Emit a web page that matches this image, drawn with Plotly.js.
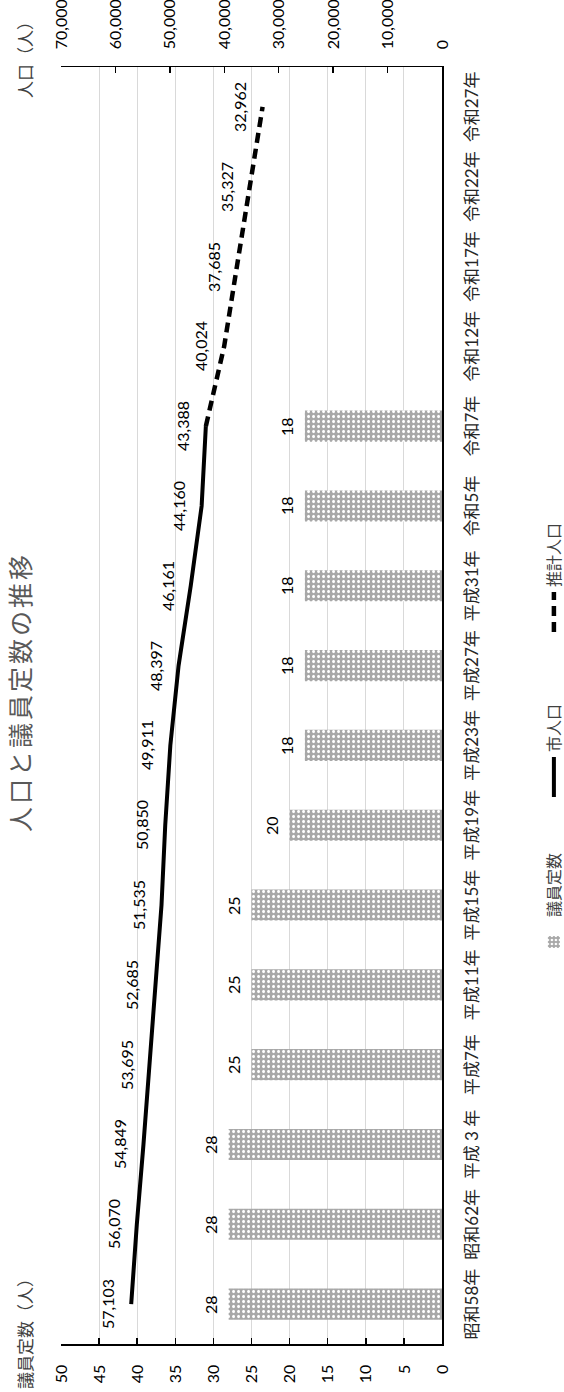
<!DOCTYPE html>
<html>
<head>
<meta charset="utf-8">
<script src="https://cdn.plot.ly/plotly-3.0.1.min.js"></script>
<style>
  html, body { margin: 0; padding: 0; background: #ffffff; }
  body { width: 564px; height: 1392px; overflow: hidden; position: relative; }
  #chart {
    position: absolute; left: 0; top: 0;
    width: 1392px; height: 564px;
    transform-origin: 0 0;
    transform: translate(0px, 1392px) rotate(-90deg);
  }
  #chart .gtitle { letter-spacing: 3px; }
</style>
</head>
<body>
<div id="chart"></div>
<script>
// ---- data ----
const categories = ['昭和58年','昭和62年','平成 3 年','平成7年','平成11年','平成15年','平成19年','平成23年','平成27年','平成31年','令和5年','令和7年','令和12年','令和17年','令和22年','令和27年'];
const seats      = [28, 28, 28, 25, 25, 25, 20, 18, 18, 18, 18, 18, null, null, null, null];
const population = [57103, 56070, 54849, 53695, 52685, 51535, 50850, 49911, 48397, 46161, 44160, 43388, null, null, null, null];
const estimate   = [null, null, null, null, null, null, null, null, null, null, null, 43388, 40024, 37685, 35327, 32962];
const seatTicks  = [0, 5, 10, 15, 20, 25, 30, 35, 40, 45, 50];
const popTicks   = [0, 10000, 20000, 30000, 40000, 50000, 60000, 70000];

const LATIN = "Lato, 'Noto Sans CJK JP', sans-serif";
const CJK = "'Noto Sans CJK JP', sans-serif";

const W = 1392, H = 564;
const M = {l: 48, r: 67, t: 61, b: 122, autoexpand: false};
const PW = W - M.l - M.r, PH = H - M.t - M.b;
const px2x = p => (p - M.l) / PW;
const px2y = p => (H - M.b - p) / PH;

const traces = [
  {
    type: 'bar', name: '議員定数', x: categories, y: seats, yaxis: 'y',
    marker: {color: '#a6a6a6', line: {width: 0},
      pattern: {shape: '.', fillmode: 'replace', bgcolor: '#a8a8a8', fgcolor: '#ffffff', size: 5, solidity: 0.3}},
    hoverinfo: 'skip'
  },
  {
    type: 'scatter', mode: 'lines', name: '市人口', x: categories, y: population, yaxis: 'y2',
    line: {color: '#000000', width: 4}, hoverinfo: 'skip'
  },
  {
    type: 'scatter', mode: 'lines', name: '推計人口', x: categories, y: estimate, yaxis: 'y2',
    line: {color: '#000000', width: 4.5, dash: '10px,6px'}, hoverinfo: 'skip'
  }
];

const labelFont = {family: LATIN, size: 16, color: '#000000'};
const annotations = [];
seats.forEach((v, i) => {
  if (v !== null) annotations.push({x: categories[i], y: v, xref: 'x', yref: 'y', text: String(v),
    showarrow: false, yshift: 18.5, font: labelFont});
});
population.forEach((v, i) => {
  if (v !== null) annotations.push({x: categories[i], y: v, xref: 'x', yref: 'y2', text: v.toLocaleString('en-US'),
    showarrow: false, yshift: 23.5, font: labelFont});
});
estimate.forEach((v, i) => {
  if (v !== null && population[i] === null) annotations.push({x: categories[i], y: v, xref: 'x', yref: 'y2', text: v.toLocaleString('en-US'),
    showarrow: false, yshift: 23.5, font: labelFont});
});
// axis titles
annotations.push({text: '議員定数（人）', xref: 'paper', yref: 'paper', x: px2x(1), y: px2y(24),
  xanchor: 'left', yanchor: 'middle', showarrow: false, font: {family: CJK, size: 17, color: '#404040'}});
annotations.push({text: '人口（人）', xref: 'paper', yref: 'paper', x: px2x(1381), y: px2y(24),
  xanchor: 'right', yanchor: 'middle', showarrow: false, font: {family: CJK, size: 17, color: '#404040'}});

const layout = {
  width: W, height: H,
  margin: M,
  paper_bgcolor: '#ffffff', plot_bgcolor: '#ffffff',
  showlegend: true,
  bargap: 0.61,
  title: {text: '人口と議員定数の推移', font: {family: CJK, size: 25, color: '#595959'},
    xref: 'container', x: 700 / W, xanchor: 'center', yref: 'container', y: 1 - 21 / H, yanchor: 'middle'},
  xaxis: {
    type: 'category', range: [-0.5, categories.length - 0.5],
    showline: true, linecolor: '#000000', linewidth: 1.5,
    ticks: '', showgrid: false, tickangle: 0,
    tickfont: {family: LATIN, size: 17, color: '#262626'},
    ticklabelstandoff: 14, fixedrange: true
  },
  yaxis: {
    range: [0, 50], tickvals: seatTicks, ticktext: seatTicks.map(String),
    showline: true, linecolor: '#000000', linewidth: 1.5,
    ticks: 'inside', ticklen: 6, tickcolor: '#000000', tickwidth: 1.5,
    showgrid: true, gridcolor: '#d9d9d9', gridwidth: 1, zeroline: false,
    tickfont: {family: LATIN, size: 16, color: '#000000'},
    ticklabelstandoff: 16, fixedrange: true
  },
  yaxis2: {
    overlaying: 'y', side: 'right',
    range: [0, 70000], tickvals: popTicks, ticktext: popTicks.map(v => v.toLocaleString('en-US')),
    showline: true, linecolor: '#000000', linewidth: 1.5,
    ticks: 'inside', ticklen: 6, tickcolor: '#000000', tickwidth: 1.5,
    showgrid: false, zeroline: false,
    tickfont: {family: LATIN, size: 16, color: '#000000'},
    ticklabelstandoff: 13, fixedrange: true
  },
  legend: {
    orientation: 'h', x: px2x(425), xanchor: 'left', y: px2y(554), yanchor: 'middle',
    font: {family: CJK, size: 16, color: '#404040'}, bgcolor: 'rgba(0,0,0,0)',
    itemwidth: 40, entrywidth: 110, traceorder: 'normal'
  },
  annotations: annotations
};

Plotly.newPlot('chart', traces, layout, {displayModeBar: false, staticPlot: true});
</script>
</body>
</html>
